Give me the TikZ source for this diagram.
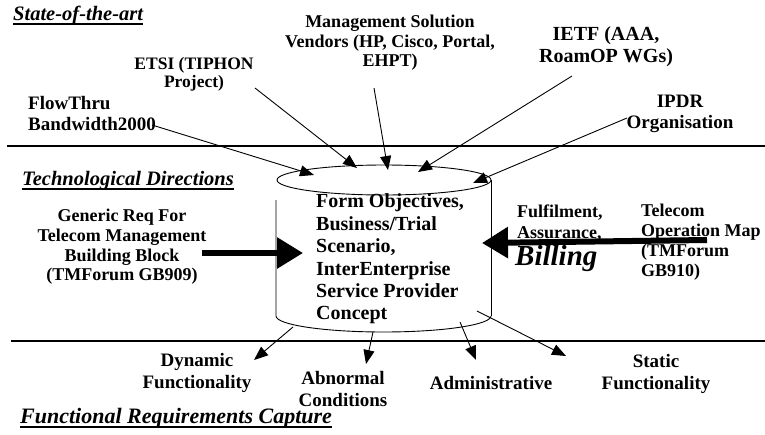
\documentclass[tikz,border=0pt]{standalone}
\usepackage{fontspec}
\setmainfont{Liberation Serif}
\usetikzlibrary{arrows.meta}
\tikzset{
  txt/.style={font=\bfseries\fontsize{19}{21.5}\selectfont, inner sep=0pt, align=center},
  lft/.style={font=\bfseries\fontsize{19}{21.5}\selectfont, inner sep=0pt, align=left},
  hd/.style={font=\bfseries\itshape\fontsize{20.5}{24}\selectfont, inner sep=0pt, anchor=base west},
  uline/.style={line width=1.4pt},
  sepline/.style={line width=1.2pt},
  thinarrow/.style={line width=0.9pt, -{Triangle[length=14pt,width=11pt]}},
  thickarrow/.style={line width=6pt, -{Triangle[length=26pt,width=30pt]}},
  cylline/.style={line width=0.9pt},
}
\begin{document}
\begin{tikzpicture}[x=1pt,y=-1pt]
\useasboundingbox (0,0) rectangle (765,434);

% separator lines
\coordinate (l1a) at (7,146);
\coordinate (l1b) at (765,146);
\coordinate (l2a) at (11,341);
\coordinate (l2b) at (765,341);
\draw[sepline] (l1a) -- (l1b);
\draw[sepline] (l2a) -- (l2b);

% headings
\node[hd] (soa) at (13,20) {State-of-the-art};
\draw[uline] ([yshift=-4pt]soa.base west) -- ([yshift=-4pt]soa.base east);
\node[hd] (td) at (22,185) {Technological Directions};
\draw[uline] ([yshift=-4pt]td.base west) -- ([yshift=-4pt]td.base east);
\node[hd, font=\bfseries\itshape\fontsize{22}{24}\selectfont] (frc) at (20,423) {Functional Requirements Capture};
\draw[uline] ([yshift=-4pt]frc.base west) -- ([yshift=-4pt]frc.base east);

% cylinder
\coordinate (cylc) at (384,180);
\draw[cylline] (cylc) ellipse [x radius=107pt, y radius=15pt];
\draw[cylline] (491,180) -- (491,316);
\draw[cylline] (276,200) -- (276,316)
  .. controls (276,324.8) and (324.1,332) .. (383.5,332)
  .. controls (442.9,332) and (491,324.8) .. (491,316);
\node[lft, font=\bfseries\fontsize{20}{22.4}\selectfont, anchor=west] (cyl) at (316,259)
  {Form Objectives,\\Business/Trial\\Scenario,\\InterEnterprise\\Service Provider\\Concept};

% top labels
\node[lft, anchor=west] (flow) at (28,113.5) {FlowThru\\Bandwidth2000};
\node[txt, font=\bfseries\fontsize{17.5}{18}\selectfont] (etsi) at (194,74) {ETSI (TIPHON\\Project)};
\node[txt, font=\bfseries\fontsize{18}{19.5}\selectfont] (mgmt) at (390,43) {Management Solution\\Vendors (HP, Cisco, Portal,\\EHPT)};
\node[txt, font=\bfseries\fontsize{20}{22}\selectfont] (ietf) at (606,47) {IETF (AAA,\\RoamOP WGs)};
\node[txt] (ipdr) at (680,114) {IPDR\\Organisation};

% side labels
\node[txt, font=\bfseries\fontsize{18}{19.7}\selectfont] (gen) at (122,247) {Generic Req For\\Telecom Management\\Building Block\\(TMForum GB909)};
\node[lft, font=\bfseries\fontsize{18}{21}\selectfont, anchor=west] (fab) at (517,223.5) {Fulfilment,\\Assurance,};
\node[font=\bfseries\itshape\fontsize{29}{30}\selectfont, inner sep=0pt, anchor=west] (bill) at (515,259) {Billing};
\node[lft, font=\bfseries\fontsize{18}{20}\selectfont, anchor=west] (tom) at (641,242) {Telecom\\Operation Map\\(TMForum\\GB910)};

% bottom labels
\node[txt] (dyn) at (197,373) {Dynamic\\Functionality};
\node[txt] (abn) at (343,389) {Abnormal\\Conditions};
\node[txt] (adm) at (491,383) {Administrative};
\node[txt] (stat) at (656,374) {Static\\Functionality};

% arrow coordinates
\coordinate (fs) at (152,125);  \coordinate (ft) at (314,175);
\coordinate (es) at (255,88);   \coordinate (et) at (357,168);
\coordinate (ms) at (374,88);   \coordinate (mt) at (388,170);
\coordinate (is) at (572,76);   \coordinate (it) at (418,172);
\coordinate (ps) at (627,118);  \coordinate (pt) at (473,183);
\coordinate (ds) at (293,327);  \coordinate (dt) at (254,360);
\coordinate (as) at (373,332);  \coordinate (at) at (366,364);
\coordinate (ms2) at (460,322); \coordinate (mt2) at (476,360);
\coordinate (ss) at (477,311);  \coordinate (st) at (566,356);
\coordinate (gs) at (202,253);  \coordinate (gt) at (303,253);
\coordinate (ts) at (707,240);  \coordinate (tt) at (482,243);

\draw[thinarrow] (fs) -- (ft);
\draw[thinarrow] (es) -- (et);
\draw[thinarrow] (ms) -- (mt);
\draw[thinarrow] (is) -- (it);
\draw[thinarrow] (ps) -- (pt);
\draw[thinarrow] (ds) -- (dt);
\draw[thinarrow] (as) -- (at);
\draw[thinarrow] (ms2) -- (mt2);
\draw[thinarrow] (ss) -- (st);
\draw[thickarrow] (gs) -- (gt);
\draw[thickarrow] (ts) -- (tt);
\end{tikzpicture}
\end{document}
